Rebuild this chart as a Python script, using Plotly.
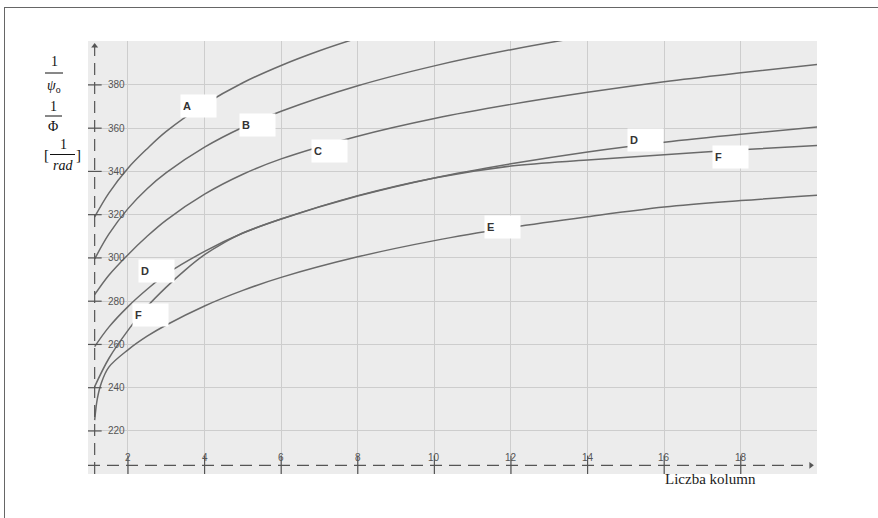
import plotly.graph_objects as go

# ---- data -------------------------------------------------------------
curve_names = ["A", "B", "C", "D", "E", "F"]

x_A = [1.13, 1.5, 2, 2.5, 3, 4, 5, 6, 7, 8]
y_A = [319, 330, 341.5, 350.5, 358.5, 371, 381, 389, 395.8, 401.7]

x_B = [1.13, 1.5, 2, 2.5, 3, 4, 5, 6, 8, 10, 12, 14]
y_B = [299.5, 311, 322.8, 332, 339.4, 351.2, 360.4, 367.8, 379.6, 388.8, 396.3, 402.6]

x_C = [1.13, 1.5, 2, 2.5, 3, 4, 5, 6, 8, 10, 12, 14, 16, 18, 20]
y_C = [283, 292, 301.5, 310, 317.5, 329.5, 338.7, 345.8, 356.3, 364.5, 371, 376.6, 381.5, 385.6, 389.4]

x_D = [1.13, 1.5, 2, 2.5, 3, 4, 5, 6, 8, 10, 12, 14, 16, 18, 20]
y_D = [259, 268, 277.5, 285.5, 292.5, 303, 311.5, 318, 328.6, 337, 343.5, 349, 353.5, 357.2, 360.5]

x_E = [1.13, 1.2, 1.3, 1.5, 2, 2.5, 3, 4, 5, 6, 8, 10, 12, 14, 16, 18, 20]
y_E = [225, 235, 242, 249.5, 257.5, 263.8, 269, 277.8, 285, 291, 300.5, 308, 314, 319, 323.5, 326.5, 329]

x_F = [1.13, 1.5, 2, 2.5, 3, 3.5, 4, 4.5, 5, 6, 8, 10, 12, 14, 16, 18, 20]
y_F = [240.5, 253.5, 266.5, 277.5, 286.5, 294.5, 301.5, 307, 311.5, 318, 328.8, 337, 342.5, 345.3, 347.7, 350, 352]

x_ticks = [2, 4, 6, 8, 10, 12, 14, 16, 18]
y_ticks = [220, 240, 260, 280, 300, 320, 340, 360, 380]
x_tick_labels = [str(v) for v in x_ticks]
y_tick_labels = [str(v) for v in y_ticks]

# curve tags: (letter, x, y) in data units
tag_letters = ["A", "B", "C", "D", "F", "E", "D", "F"]
tag_x = [3.84, 5.37, 7.26, 15.50, 17.73, 11.79, 2.74, 2.59]
tag_y = [370.1, 361.3, 349.5, 354.3, 346.7, 314.3, 294.0, 273.6]

x_title = "Liczba kolumn"

# ---- layout geometry --------------------------------------------------
W, H = 878, 518
L, R, T, B = 88, 817, 41, 474
X_RANGE = [0.956, 19.99]
Y_RANGE = [200.1, 400.3]
AXIS_X = 1.13      # position of the vertical axis line
AXIS_Y = 204.1     # position of the horizontal axis line


def px(xp):
    return (xp - L) / (R - L)


def py(yp):
    return (B - yp) / (B - T)


curves = {
    "A": (x_A, y_A), "B": (x_B, y_B), "C": (x_C, y_C),
    "D": (x_D, y_D), "E": (x_E, y_E), "F": (x_F, y_F),
}

fig = go.Figure()

for name in curve_names:
    xs, ys = curves[name]
    fig.add_trace(go.Scatter(
        x=xs, y=ys, mode="lines", name=name,
        line=dict(color="#6a6a6a", width=1.5, shape="spline", smoothing=1.0),
        hoverinfo="skip", showlegend=False, cliponaxis=True,
    ))

axis_color = "#555555"
# dashed axis lines
fig.add_trace(go.Scatter(
    x=[X_RANGE[0], 19.83], y=[AXIS_Y, AXIS_Y], mode="lines",
    line=dict(color=axis_color, width=1.2, dash="12px,7px"),
    hoverinfo="skip", showlegend=False))
fig.add_trace(go.Scatter(
    x=[AXIS_X, AXIS_X], y=[Y_RANGE[0], 398], mode="lines",
    line=dict(color=axis_color, width=1.2, dash="12px,7px"),
    hoverinfo="skip", showlegend=False))
# arrow heads
fig.add_trace(go.Scatter(
    x=[19.83], y=[AXIS_Y], mode="markers",
    marker=dict(symbol="triangle-right", size=6, color=axis_color),
    hoverinfo="skip", showlegend=False, cliponaxis=False))
fig.add_trace(go.Scatter(
    x=[AXIS_X], y=[398], mode="markers",
    marker=dict(symbol="triangle-up", size=6, color=axis_color),
    hoverinfo="skip", showlegend=False, cliponaxis=False))
# tick marks on the axes
fig.add_trace(go.Scatter(
    x=[AXIS_X] * len(y_ticks), y=y_ticks, mode="markers",
    marker=dict(symbol="line-ew", size=10,
                line=dict(color=axis_color, width=1.2)),
    hoverinfo="skip", showlegend=False))
fig.add_trace(go.Scatter(
    x=x_ticks, y=[AXIS_Y] * len(x_ticks), mode="markers",
    marker=dict(symbol="line-ns", size=14,
                line=dict(color=axis_color, width=1.2)),
    hoverinfo="skip", showlegend=False))

annotations = []
tick_font = dict(family="Arial, Liberation Sans, sans-serif", size=10, color="#555555")
for v, t in zip(y_ticks, y_tick_labels):
    annotations.append(dict(x=AXIS_X, y=v, xref="x", yref="y", text=t,
                            showarrow=False, xanchor="left", yanchor="middle",
                            xshift=11, font=tick_font))
for v, t in zip(x_ticks, x_tick_labels):
    annotations.append(dict(x=v, y=AXIS_Y, xref="x", yref="y", text=t,
                            showarrow=False, xanchor="center", yanchor="middle",
                            yshift=8, font=tick_font))

# curve tags in white boxes
for letter, lx, ly in zip(tag_letters, tag_x, tag_y):
    annotations.append(dict(
        x=lx, y=ly, xref="x", yref="y", text="<b>" + letter + "</b>",
        showarrow=False, xanchor="center", yanchor="middle",
        width=31, height=18, align="left", borderpad=2,
        bgcolor="white",
        font=dict(family="Arial, Liberation Sans, sans-serif", size=11, color="#333333")))

serif = "Liberation Serif, Times New Roman, serif"


def ptext(x, y, text, size=14, anchor="center"):
    annotations.append(dict(x=px(x), y=py(y), xref="paper", yref="paper",
                            text=text, showarrow=False, xanchor=anchor,
                            yanchor="middle",
                            font=dict(family=serif, size=size, color="#111111")))


# y-axis quantity: 1/psi_o, 1/Phi, [1/rad]
ptext(54, 62, "1")
ptext(54, 86, "<i>ψ</i><sub>o</sub>")
ptext(53, 106, "1")
ptext(53, 127, "Φ")
ptext(63, 144, "1")
ptext(63, 165, "<i>rad</i>")
ptext(46, 155, "[", size=15)
ptext(78, 155, "]", size=15)

annotations.append(dict(x=px(663), y=py(479), xref="paper", yref="paper",
                        text=x_title, showarrow=False, xanchor="left",
                        yanchor="middle",
                        font=dict(family=serif, size=15, color="#222222")))

shapes = [
    # fraction bars
    dict(type="line", xref="paper", yref="paper", x0=px(45), x1=px(63),
         y0=py(73), y1=py(73), line=dict(color="#111111", width=1)),
    dict(type="line", xref="paper", yref="paper", x0=px(45), x1=px(62),
         y0=py(116), y1=py(116), line=dict(color="#111111", width=1)),
    dict(type="line", xref="paper", yref="paper", x0=px(50), x1=px(75),
         y0=py(154.5), y1=py(154.5), line=dict(color="#111111", width=1)),
    # frame on the left and top
    dict(type="line", xref="paper", yref="paper", x0=px(4.5), x1=px(4.5),
         y0=py(7), y1=py(518), line=dict(color="#666666", width=1)),
    dict(type="line", xref="paper", yref="paper", x0=px(4.5), x1=px(878),
         y0=py(7.5), y1=py(7.5), line=dict(color="#666666", width=1)),
]

fig.update_layout(
    width=W, height=H,
    margin=dict(l=L, r=W - R, t=T, b=H - B, pad=0),
    paper_bgcolor="white", plot_bgcolor="#ececec",
    xaxis=dict(range=X_RANGE, tickvals=x_ticks, showticklabels=False,
               showgrid=True, gridcolor="#cdcdcd", gridwidth=1,
               zeroline=False, showline=False, ticks="", fixedrange=True),
    yaxis=dict(range=Y_RANGE, tickvals=y_ticks, showticklabels=False,
               showgrid=True, gridcolor="#cdcdcd", gridwidth=1,
               zeroline=False, showline=False, ticks="", fixedrange=True),
    annotations=annotations, shapes=shapes, showlegend=False,
)

fig.write_html("out.html", config={"displayModeBar": False})
